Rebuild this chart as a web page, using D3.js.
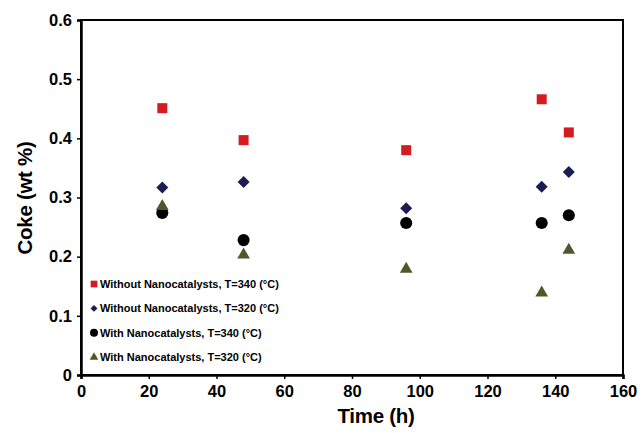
<!DOCTYPE html>
<html>
<head>
<meta charset="utf-8">
<script src="https://cdn.jsdelivr.net/npm/d3@7"></script>
<style>
  body { margin: 0; background: #fff; }
  svg { display: block; font-family: Arial, 'Liberation Sans', sans-serif; }
</style>
</head>
<body>
<svg id="chart" width="644" height="433"></svg>
<script>
// values
const times = [24, 48, 96, 136, 144];
const withoutNano340 = [0.451, 0.397, 0.380, 0.466, 0.410];
const withoutNano320 = [0.317, 0.326, 0.282, 0.318, 0.343];
const withNano340 = [0.274, 0.228, 0.257, 0.257, 0.270];
const withNano320 = [0.285, 0.203, 0.179, 0.139, 0.211];
const xTicks = [0, 20, 40, 60, 80, 100, 120, 140, 160];
const yTicks = [0, 0.1, 0.2, 0.3, 0.4, 0.5, 0.6];

// diamonds are drawn as squares turned 45 degrees
const series = [
    {name: 'Without Nanocatalysts, T=340 (\u00B0C)', values: withoutNano340, symbol: d3.symbolSquare, size: 100, legendSize: 45, rotate: 0, color: '#d41c20'},
    {name: 'Without Nanocatalysts, T=320 (\u00B0C)', values: withoutNano320, symbol: d3.symbolSquare, size: 72, legendSize: 24, rotate: 45, color: '#1c1c55'},
    {name: 'With Nanocatalysts, T=340 (\u00B0C)', values: withNano340, symbol: d3.symbolCircle, size: 115, legendSize: 50, rotate: 0, color: '#000000'},
    {name: 'With Nanocatalysts, T=320 (\u00B0C)', values: withNano320, symbol: d3.symbolTriangle, size: 70, legendSize: 32, rotate: 0, color: '#4b5a2b'}
];

const margin = {left: 81, right: 21, top: 20, bottom: 58};
const width = 644, height = 433;

const svg = d3.select('#chart');

const x = d3.scaleLinear().domain([0, 160]).range([margin.left, width - margin.right]);
const y = d3.scaleLinear().domain([0, 0.6]).range([height - margin.bottom, margin.top]);

// plot frame
svg.append('rect')
    .attr('x', x(0))
    .attr('y', y(0.6))
    .attr('width', x(160) - x(0))
    .attr('height', y(0) - y(0.6))
    .attr('fill', 'none')
    .attr('stroke', '#000')
    .attr('stroke-width', 2);

let xAxis = svg.append('g')
    .attr('transform', 'translate(0,' + y(0) + ')')
    .call(d3.axisBottom(x).tickValues(xTicks).tickSize(4).tickPadding(4).tickFormat(d3.format('d')));

let yAxis = svg.append('g')
    .attr('transform', 'translate(' + x(0) + ',0)')
    .call(d3.axisLeft(y).tickValues(yTicks).tickSize(4).tickPadding(5).tickFormat(d => d === 0 ? '0' : d3.format('.1f')(d)));

[xAxis, yAxis].forEach(axis => {
    axis.select('.domain').attr('stroke-width', 2.5);
    axis.selectAll('.tick line').attr('stroke-width', 1.5);
    axis.selectAll('.tick text')
        .attr('fill', '#000')
        .style('font-size', '16.5px')
        .style('font-weight', 'bold');
});
xAxis.selectAll('.tick text').attr('dy', '0.85em');

// axis titles
svg.append('text')
    .attr('x', 376)
    .attr('y', 423)
    .attr('text-anchor', 'middle')
    .style('font-size', '20.5px')
    .style('font-weight', 'bold')
    .style('letter-spacing', '-0.3px')
    .text('Time (h)');

svg.append('text')
    .attr('transform', 'translate(32,198) rotate(-90)')
    .attr('text-anchor', 'middle')
    .style('font-size', '20.5px')
    .style('font-weight', 'bold')
    .style('letter-spacing', '-0.3px')
    .text('Coke (wt %)');

// markers
series.forEach(s => {
    svg.append('g').selectAll('path')
        .data(times.map((t, i) => ({t, v: s.values[i]})))
        .enter().append('path')
        .attr('transform', d => 'translate(' + x(d.t) + ',' + y(d.v) + ') rotate(' + s.rotate + ')')
        .attr('d', d3.symbol().type(s.symbol).size(s.size))
        .attr('fill', s.color);
});

// legend
const legend = svg.append('g').attr('transform', 'translate(94,284)');
series.forEach((s, i) => {
    let row = legend.append('g').attr('transform', 'translate(0,' + (i * 24.4) + ')');
    row.append('path')
        .attr('transform', 'rotate(' + s.rotate + ')')
        .attr('d', d3.symbol().type(s.symbol).size(s.legendSize))
        .attr('fill', s.color);
    row.append('text')
        .attr('x', 6)
        .attr('y', 4)
        .style('font-size', '11px')
        .style('font-weight', 'bold')
        .text(s.name);
});
</script>
</body>
</html>
